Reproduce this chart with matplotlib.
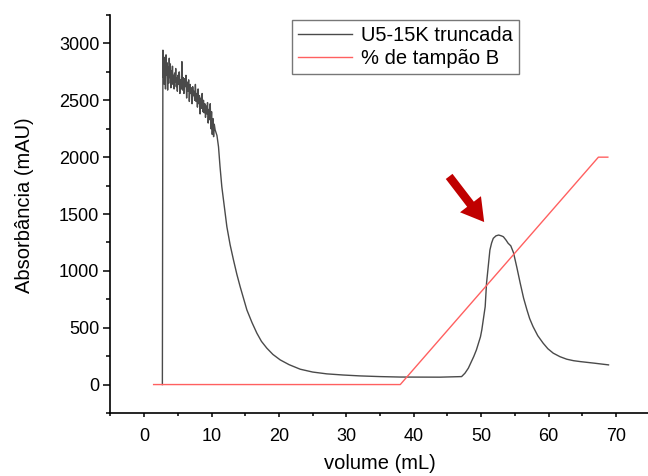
import numpy as np
import matplotlib.pyplot as plt

plt.rcParams['font.family'] = ['Liberation Sans', 'DejaVu Sans']

# UV trace (mAU) vs volume (mL)
vol_uv = [2.70, 2.78, 2.85, 2.92, 3.00, 3.08, 3.16, 3.24, 3.32, 3.40, 3.48, 3.56, 3.64, 3.72,
          3.80, 3.88, 3.96, 4.04, 4.12, 4.20, 4.28, 4.36, 4.44, 4.52, 4.60, 4.68, 4.76, 4.84,
          4.92, 5.00, 5.10, 5.20, 5.30, 5.40, 5.50, 5.60, 5.70, 5.80, 5.90, 6.00, 6.10, 6.20,
          6.30, 6.40, 6.50, 6.60, 6.70, 6.80, 6.90, 7.00, 7.10, 7.20, 7.30, 7.40, 7.50, 7.60,
          7.70, 7.80, 7.90, 8.00, 8.10, 8.20, 8.30, 8.40, 8.50, 8.60, 8.70, 8.80, 8.90, 9.00,
          9.10, 9.20, 9.30, 9.40, 9.50, 9.60, 9.70, 9.80, 9.90, 10.00, 10.10, 10.20, 10.30,
          10.40, 10.53, 10.8, 11.03, 11.25, 11.52, 11.9, 12.27, 12.75, 13.25, 13.75, 14.24,
          14.75, 15.24, 16.0, 16.72, 17.4, 18.2, 19.1, 20.18, 21.5, 23.15, 25.0, 27.1, 29.5,
          32.05, 35.0, 37.98, 41.0, 43.9, 46.0, 47.1, 47.6, 48.1, 48.5, 48.9, 49.3, 49.6,
          49.9, 50.1, 50.35, 50.6, 50.8, 50.95, 51.1, 51.3, 51.55, 51.8, 52.2, 52.6, 53.0,
          53.3, 53.7, 54.0, 54.4, 54.8, 55.3, 55.8, 56.3, 56.8, 57.2, 57.7, 58.4, 59.2, 59.9,
          60.7, 61.7, 62.7, 63.7, 64.7, 66.8, 68.9]
abs_uv = [0, 2941, 2700, 2880, 2640, 2850, 2600, 2900, 2720, 2830, 2590, 2790, 2650, 2870,
          2700, 2820, 2610, 2760, 2680, 2800, 2640, 2720, 2600, 2740, 2660, 2780, 2620, 2700,
          2580, 2720, 2640, 2750, 2560, 2680, 2600, 2840, 2590, 2700, 2560, 2690, 2620, 2720,
          2520, 2660, 2580, 2680, 2490, 2640, 2560, 2610, 2470, 2620, 2540, 2580, 2500, 2640,
          2490, 2560, 2440, 2600, 2470, 2540, 2380, 2520, 2430, 2560, 2400, 2500, 2390, 2470,
          2350, 2450, 2380, 2480, 2300, 2420, 2330, 2470, 2250, 2400, 2200, 2340, 2180,
          2290, 2240, 2190, 2091, 1920, 1740, 1560, 1388, 1230, 1096, 970, 861,
          755, 656, 545, 452, 380, 320, 265, 217, 175, 135, 110, 94, 84,
          76, 70, 66, 65, 65, 68, 70, 100, 144, 195, 246, 305, 364,
          420, 481, 580, 685, 891, 980, 1067, 1183, 1245, 1286, 1308, 1315, 1308,
          1300, 1270, 1243, 1220, 1160, 1030, 891, 760, 656, 580, 510, 430, 364, 315,
          276, 245, 223, 210, 202, 188, 173]

# % buffer B gradient (scaled so 100 % = 2000)
vol_grad = [1.4, 38.0, 67.4, 68.8]
grad_b = [0, 0, 2000, 2000]

fig = plt.figure(figsize=(6.48, 4.76), dpi=100)
ax = fig.add_axes([0.1705, 0.1324, 0.832, 0.836])

ax.plot(vol_uv, abs_uv, color='#4a4a4a', lw=1.0, label='U5-15K truncada')
ax.plot(vol_grad, grad_b, color='#ff6060', lw=1.0, label='% de tampão B')

ax.annotate('', xy=(50.7, 1410), xytext=(45.0, 1850),
            arrowprops=dict(arrowstyle='simple,head_length=0.85,head_width=1.0,tail_width=0.32',
                            mutation_scale=19, color='#c00000', lw=0))

ax.set_xlim(-5, 75)
ax.set_ylim(-250, 3250)
ax.set_xticks(np.arange(0, 71, 10))
ax.set_xticks(np.arange(-5, 75, 5), minor=True)
ax.set_yticks(np.arange(0, 3001, 500))
ax.set_yticks(np.arange(-250, 3251, 250), minor=True)

for s in ['top', 'right']:
    ax.spines[s].set_visible(False)
for s in ['left', 'bottom']:
    ax.spines[s].set_linewidth(1.2)

ax.tick_params(axis='y', which='major', length=5, width=1.1, labelsize=13, pad=3)
ax.tick_params(axis='y', which='minor', length=3, width=1.1)
ax.tick_params(axis='x', which='major', length=3, width=1.1, labelsize=13, pad=8)
ax.tick_params(axis='x', which='minor', length=2, width=1.1)

ax.set_xlabel('volume (mL)', fontsize=14.5, labelpad=6)
ax.set_ylabel('Absorbância (mAU)', fontsize=14.5)
ax.yaxis.set_label_coords(-0.142, 0.523)

leg = ax.legend(loc='upper left', bbox_to_anchor=(0.450, 0.958),
                bbox_transform=fig.transFigure, fontsize=14.5, fancybox=False,
                handlelength=2.7, handletextpad=0.45, borderpad=0.3, labelspacing=0.2,
                borderaxespad=0)
leg.get_frame().set_edgecolor('#555555')
leg.get_frame().set_linewidth(1.0)

plt.savefig('out.png', dpi=100)
